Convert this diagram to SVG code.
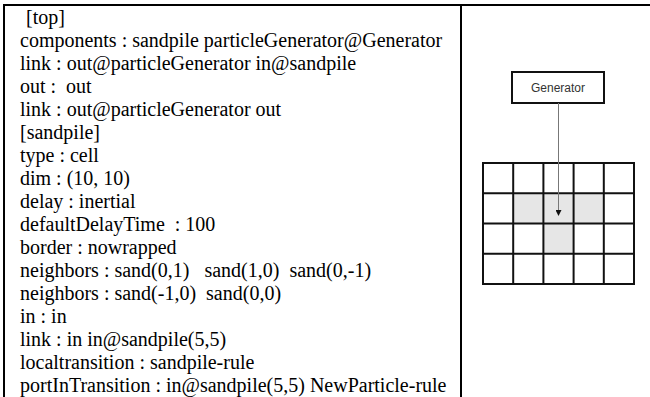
<svg xmlns="http://www.w3.org/2000/svg" width="650" height="397" viewBox="0 0 650 397">
<style>
.code{font-family:"Liberation Serif","Times New Roman",serif;font-size:20px;fill:#000;}
.frame{stroke:#000;stroke-width:2;fill:none;}
.shade{fill:#e6e6e6;stroke:none;}
.lbl{font-family:"Liberation Sans",Arial,sans-serif;font-size:12px;fill:#333;text-anchor:middle;}
</style>
<defs>
<marker id="ah" markerWidth="6" markerHeight="6" refX="5" refY="3" orient="auto" markerUnits="userSpaceOnUse">
<path d="M0,0 L6,3 L0,6 Z" fill="#111"/>
</marker>
</defs>
<rect width="650" height="397" fill="#fff"/>
<g id="table">
<line class="frame" x1="3" y1="5" x2="650" y2="5"/>
<line class="frame" x1="4" y1="4" x2="4" y2="397"/>
<line class="frame" x1="461" y1="4" x2="461" y2="397"/>
</g>
<g id="code" class="code">
<text x="26" y="24">[top]</text>
<text x="20" y="47">components : sandpile particleGenerator@Generator</text>
<text x="20" y="70">link : out@particleGenerator in@sandpile</text>
<text x="20" y="93" xml:space="preserve">out :  out</text>
<text x="20" y="116">link : out@particleGenerator out</text>
<text x="20" y="139">[sandpile]</text>
<text x="20" y="162">type : cell</text>
<text x="20" y="185">dim : (10, 10)</text>
<text x="20" y="208">delay : inertial</text>
<text x="20" y="231" xml:space="preserve">defaultDelayTime  : 100</text>
<text x="20" y="254">border : nowrapped</text>
<text x="20" y="277" xml:space="preserve">neighbors : sand(0,1)   sand(1,0)  sand(0,-1)</text>
<text x="20" y="300" xml:space="preserve">neighbors : sand(-1,0)  sand(0,0)</text>
<text x="20" y="323">in : in</text>
<text x="20" y="346">link : in in@sandpile(5,5)</text>
<text x="20" y="369">localtransition : sandpile-rule</text>
<text x="20" y="392">portInTransition : in@sandpile(5,5) NewParticle-rule</text>
</g>
<g id="grid">
<rect class="shade" x="513" y="193" width="91" height="30"/>
<rect class="shade" x="544" y="223" width="30" height="30"/>
<g stroke="#111" stroke-width="2" fill="none">
<rect x="483" y="163" width="151" height="121"/>
<line x1="513.2" y1="163" x2="513.2" y2="284"/>
<line x1="543.4" y1="163" x2="543.4" y2="284"/>
<line x1="573.6" y1="163" x2="573.6" y2="284"/>
<line x1="603.8" y1="163" x2="603.8" y2="284"/>
<line x1="483" y1="193.3" x2="634" y2="193.3"/>
<line x1="483" y1="223.5" x2="634" y2="223.5"/>
<line x1="483" y1="253.8" x2="634" y2="253.8"/>
</g>
</g>
<g id="generator">
<rect x="512" y="72" width="92" height="31" fill="#fff" stroke="#111" stroke-width="2"/>
<text class="lbl" x="558" y="91.5">Generator</text>
</g>
<g id="connectors">
<line x1="558.5" y1="103" x2="558.5" y2="215" stroke="#777" stroke-width="1" marker-end="url(#ah)"/>
</g>
</svg>
